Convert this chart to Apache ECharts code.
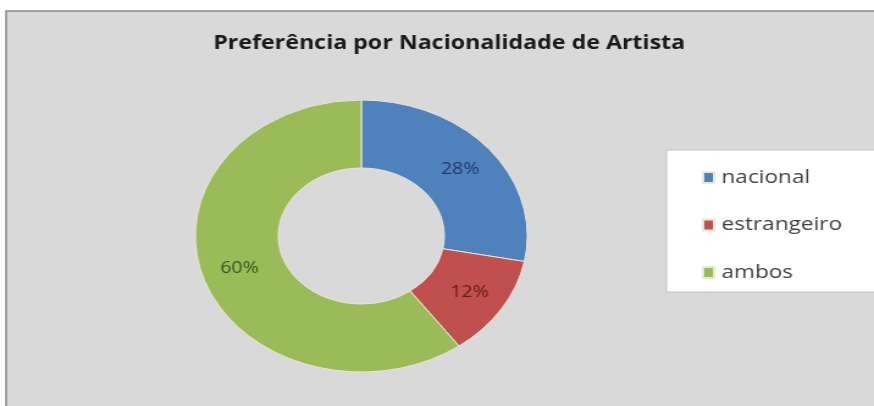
<!DOCTYPE html>
<html>
<head>
<meta charset="utf-8">
<script src="https://cdn.jsdelivr.net/npm/echarts@6/dist/echarts.min.js"></script>
<style>
  html, body { margin: 0; padding: 0; background: #ffffff; overflow: hidden; }
  #wrap { width: 874px; height: 406px; overflow: hidden; }
  /* the chart is laid out on a narrower canvas and widened horizontally */
  #chart { width: 716px; height: 406px; transform: scaleX(1.2207); transform-origin: 0 0; }
</style>
</head>
<body>
<div id="wrap"><div id="chart"></div></div>
<script>
const titleText = 'Preferência por Nacionalidade de Artista';
const categories = ['nacional', 'estrangeiro', 'ambos'];
const shares = [28, 12, 60];
const sliceColors = ['#4f81bd', '#c0504d', '#9bbb59'];
const labelColors = ['#1f3b6a', '#661a18', '#3a521a'];

const chart = echarts.init(document.getElementById('chart'), null, { renderer: 'canvas' });

const pieData = categories.map((name, i) => ({
  name: name,
  value: shares[i],
  itemStyle: { color: sliceColors[i] },
  label: { color: labelColors[i] }
}));

chart.setOption({
  backgroundColor: '#ffffff',
  animation: false,
  graphic: [{
    type: 'rect',
    z: -10,
    shape: { x: 5, y: 11, width: 900, height: 500 },
    style: { fill: '#d9d9d9', stroke: '#8a8a8a', lineWidth: 1.5 }
  }],
  title: {
    text: titleText,
    left: 363,
    top: 29,
    textAlign: 'center',
    textStyle: { fontFamily: 'Open Sans', fontWeight: 'bold', fontSize: 19, color: '#1a1a1a' }
  },
  legend: {
    orient: 'vertical',
    left: 546,
    top: 150,
    data: categories,
    icon: 'rect',
    itemWidth: 9,
    itemHeight: 11,
    itemGap: 28.5,
    padding: [18, 60, 10, 29],
    backgroundColor: '#ffffff',
    borderColor: '#c4c4c4',
    borderWidth: 1,
    textStyle: { fontFamily: 'Open Sans', fontSize: 18.5, color: '#404040', padding: [0, 0, 0, 1] }
  },
  series: [{
    type: 'pie',
    center: [296, 236],
    radius: [68, 136],
    startAngle: 90,
    clockwise: true,
    avoidLabelOverlap: false,
    itemStyle: { borderColor: '#e8e8d8', borderWidth: 1 },
    label: {
      show: true,
      position: 'inside',
      formatter: '{c}%',
      fontFamily: 'Open Sans',
      fontSize: 16
    },
    labelLine: { show: false },
    data: pieData
  }]
});
</script>
</body>
</html>
